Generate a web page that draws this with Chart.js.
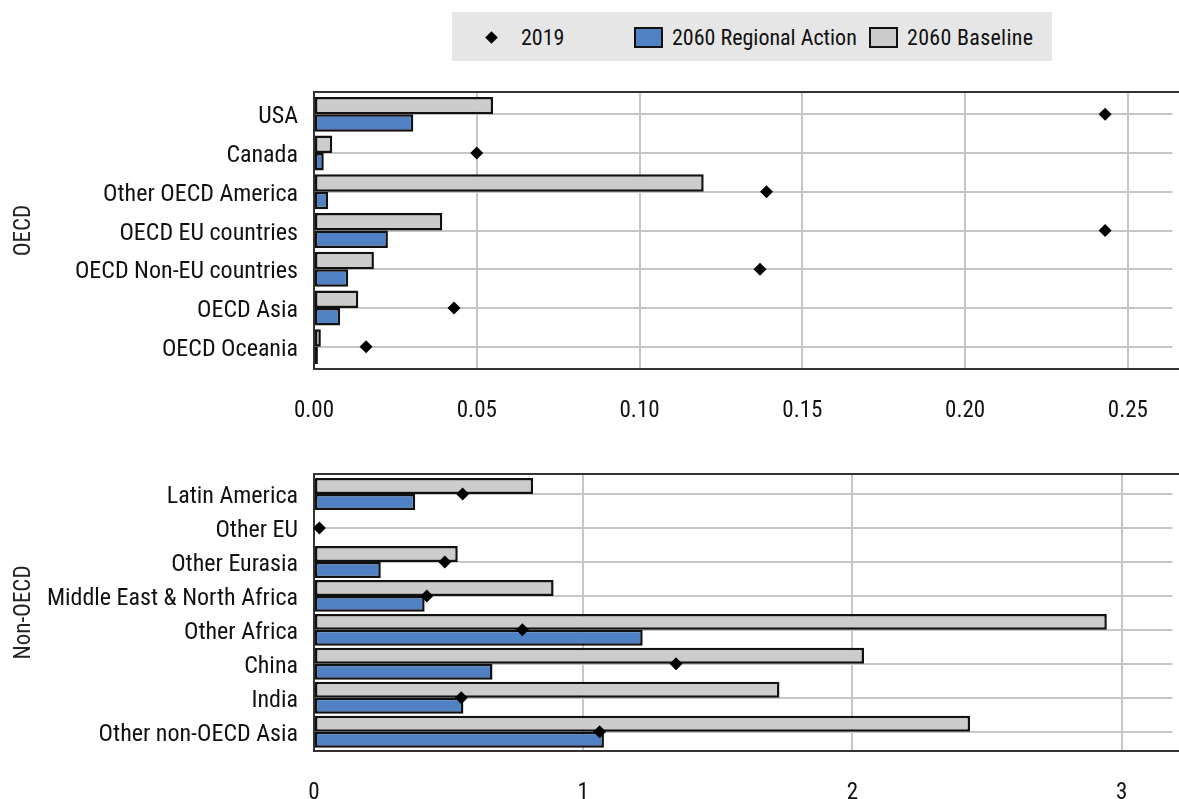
<!DOCTYPE html>
<html lang="en">
<head>
<meta charset="UTF-8">
<title>OECD / Non-OECD</title>
<script src="https://cdn.jsdelivr.net/npm/chart.js@4.4.1/dist/chart.umd.min.js"></script>
<style>
  html, body { margin: 0; padding: 0; background: #fff; overflow: hidden; }
  body { width: 1179px; height: 799px; position: relative;
         font-family: 'Roboto Condensed', 'Liberation Sans Narrow', sans-serif; color: #111; }
  #legend { position: absolute; left: 452px; top: 12px; width: 600px; height: 49px; background: #e6e6e6; font-size: 22px; }
  #legend span { position: absolute; }
  #legend .txt { top: 1px; line-height: 49px; white-space: nowrap; }
  #legend .box { top: 15px; width: 29px; height: 21px; border: 2.5px solid #111; box-sizing: border-box; }
  #legend .dia { top: 21px; width: 9px; height: 9px; background: #000; transform: rotate(45deg); }
  .wrap { position: absolute; left: 0; width: 1179px; }
</style>
</head>
<body>
<div id="legend">
  <span class="dia" style="left:35px"></span>
  <span class="txt" style="left:69px">2019</span>
  <span class="box" style="left:182px; background:#4f81c4"></span>
  <span class="txt" style="left:220px">2060 Regional Action</span>
  <span class="box" style="left:417px; background:#cccccc"></span>
  <span class="txt" style="left:455px; letter-spacing:0.3px">2060 Baseline</span>
</div>
<div class="wrap" style="top:0; height:440px"><canvas id="oecdChart"></canvas></div>
<div class="wrap" style="top:440px; height:359px"><canvas id="nonOecdChart"></canvas></div>
<script>

// OECD regions
var oecdLabels = ['USA', 'Canada', 'Other OECD America', 'OECD EU countries', 'OECD Non-EU countries', 'OECD Asia', 'OECD Oceania'];
var oecd2019 = [0.243, 0.050, 0.139, 0.243, 0.137, 0.043, 0.016];
var oecdRegional = [0.0305, 0.0030, 0.0043, 0.0227, 0.0105, 0.0080, 0.0012];
var oecdBaseline = [0.0550, 0.0056, 0.1197, 0.0394, 0.0184, 0.0136, 0.0021];

// Non-OECD regions
var nonLabels = ['Latin America', 'Other EU', 'Other Eurasia', 'Middle East & North Africa', 'Other Africa', 'China', 'India', 'Other non-OECD Asia'];
var non2019 = [0.552, 0.020, 0.486, 0.419, 0.774, 1.345, 0.547, 1.061];
var nonRegional = [0.376, null, 0.248, 0.411, 1.221, 0.663, 0.555, 1.077];
var nonBaseline = [0.814, null, 0.534, 0.890, 2.945, 2.043, 1.729, 2.437];

var FONT = "'Roboto Condensed', 'Liberation Sans Narrow', sans-serif";

// plot frame (top, bottom, left) drawn under the bars
var framePlugin = {
  id: 'frame',
  // category axis keeps a little more room above the first and below the last row
  afterLayout: function(chart) {
    var o = chart.options.plugins.frame;
    var y = chart.scales.y;
    y._startValue = o.yStart;
    y._valueRange = o.yRange;
  },
  beforeDatasetsDraw: function(chart) {
    var a = chart.chartArea, ctx = chart.ctx;
    ctx.save();
    ctx.strokeStyle = '#333';
    ctx.lineWidth = 2;
    ctx.beginPath();
    ctx.moveTo(chart.width, a.top);
    ctx.lineTo(a.left, a.top);
    ctx.lineTo(a.left, a.bottom);
    ctx.lineTo(chart.width, a.bottom);
    ctx.stroke();
    ctx.restore();
  }
};

function makeChart(id, labels, v2019, vReg, vBase, o) {
  var ctx = document.getElementById(id).getContext('2d');
  return new Chart(ctx, {
    type: 'bar',
    data: {
      labels: labels,
      datasets: [
        {
          type: 'line', label: '2019', data: v2019, indexAxis: 'y',
          showLine: false, pointStyle: 'rectRot', pointRadius: 6.5,
          pointBackgroundColor: '#000', pointBorderWidth: 0, order: 0
        },
        {
          label: '2060 Baseline', data: vBase, backgroundColor: '#cccccc',
          borderColor: '#111', borderWidth: 2.5, borderSkipped: false, order: 1
        },
        {
          label: '2060 Regional Action', data: vReg, backgroundColor: '#4f81c4',
          borderColor: '#111', borderWidth: 2.5, borderSkipped: false, order: 1
        }
      ]
    },
    options: {
      indexAxis: 'y',
      responsive: true,
      maintainAspectRatio: false,
      animation: false,
      layout: { padding: { top: o.padTop, right: 0, left: 0, bottom: 0 } },
      datasets: { bar: { barPercentage: 1, categoryPercentage: o.catPct } },
      plugins: {
        legend: { display: false },
        tooltip: { enabled: false },
        frame: { yStart: o.yStart, yRange: o.yRange }
      },
      scales: {
        x: {
          type: 'linear', min: 0, max: o.max,
          grid: { color: '#c6c6c6', lineWidth: 2, drawTicks: false },
          border: { display: false },
          ticks: {
            stepSize: o.step, padding: 28, color: '#111', includeBounds: false,
            font: { family: FONT, size: 23 },
            callback: function(v) { return v.toFixed(o.decimals); }
          },
          afterFit: function(scale) { scale.height = o.xHeight; }
        },
        y: {
          grid: { color: '#c6c6c6', lineWidth: 2, drawTicks: false, offset: false },
          border: { display: false },
          ticks: { padding: 16, labelOffset: 3, color: '#111', font: { family: FONT, size: 24 } },
          title: {
            display: true, text: o.title, color: '#222',
            font: { family: FONT, size: 23 }, padding: { top: 10, bottom: 0 }
          },
          afterFit: function(scale) { scale.width = 314; }
        }
      }
    },
    plugins: [framePlugin]
  });
}

window.onload = function() {
  makeChart('oecdChart', oecdLabels, oecd2019, oecdRegional, oecdBaseline,
    { max: 0.2637, step: 0.05, decimals: 2, title: 'OECD', padTop: 92, xHeight: 71,
      catPct: 0.9, yStart: -0.576, yRange: 7.152 });
  makeChart('nonOecdChart', nonLabels, non2019, nonRegional, nonBaseline,
    { max: 3.189, step: 1, decimals: 0, title: 'Non-OECD', padTop: 34, xHeight: 48,
      catPct: 0.94, yStart: -0.589, yRange: 8.157 });
};
</script>
</body>
</html>
